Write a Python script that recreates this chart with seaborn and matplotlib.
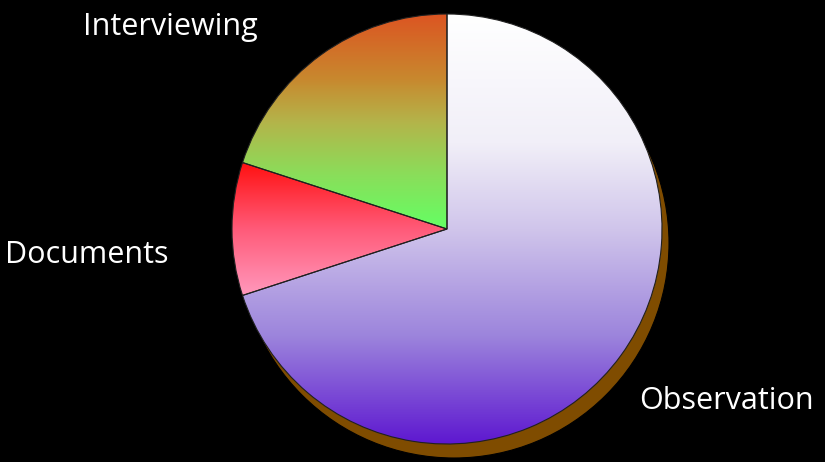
import numpy as np
import matplotlib
matplotlib.use("Agg")
import matplotlib.pyplot as plt
import seaborn as sns
from matplotlib.patches import Circle
from matplotlib.colors import LinearSegmentedColormap

sns.set_theme(style="white")
plt.rcParams['font.family'] = ['Open Sans', 'DejaVu Sans']

categories = ["Observation", "Documents", "Interviewing"]
values = [70, 10, 20]
gradient_stops = [
    [(0.0, "#ffffff"), (0.3, "#f1eff8"), (0.5, "#d0c5eb"), (0.75, "#9c84dc"), (1.0, "#5e18d0")],
    [(0.0, "#ff1010"), (0.5, "#ff5a78"), (1.0, "#ff98bc")],
    [(0.0, "#dc5522"), (0.3, "#c8882e"), (0.5, "#b4b44a"), (0.75, "#8ade5a"), (1.0, "#64ff64")],
]

W, H = 825, 462
fig = plt.figure(figsize=(W / 100, H / 100), dpi=100, facecolor="black")
ax = fig.add_axes([0, 0, 1, 1])
ax.set_facecolor("black")

cx, cy, r = 447, H - 229, 215

# shadow
shadow = Circle((cx + 7, cy - 14), r, facecolor="#7f4c00", edgecolor="black", lw=0.8, zorder=1)
ax.add_patch(shadow)

wedges, _ = ax.pie(values, startangle=90, counterclock=False, center=(cx, cy), radius=r,
                   wedgeprops=dict(edgecolor="#202020", linewidth=0.8, facecolor="none"),
                   frame=True)
ax.set_xlim(0, W)
ax.set_ylim(0, H)
ax.set_aspect("equal")
ax.axis("off")

grad = np.linspace(0, 1, 256).reshape(-1, 1)
for w, stops in zip(wedges, gradient_stops):
    w.set_zorder(3)
    bb = w.get_path().get_extents(w.get_patch_transform())
    cmap = LinearSegmentedColormap.from_list("g", stops)
    im = ax.imshow(grad, cmap=cmap, aspect="auto",
                   extent=[bb.x0, bb.x1, bb.y0, bb.y1], origin="upper", zorder=2)
    im.set_clip_path(w)

ax.set_xlim(0, W)
ax.set_ylim(0, H)

label_pos = {"Interviewing": (170, 27), "Documents": (87, 255), "Observation": (726, 401)}
for name in categories:
    x, y = label_pos[name]
    ax.text(x, H - y, name, color="white", fontsize=22, ha="center", va="center", zorder=5)

fig.savefig("out.png", dpi=100, facecolor="black")
